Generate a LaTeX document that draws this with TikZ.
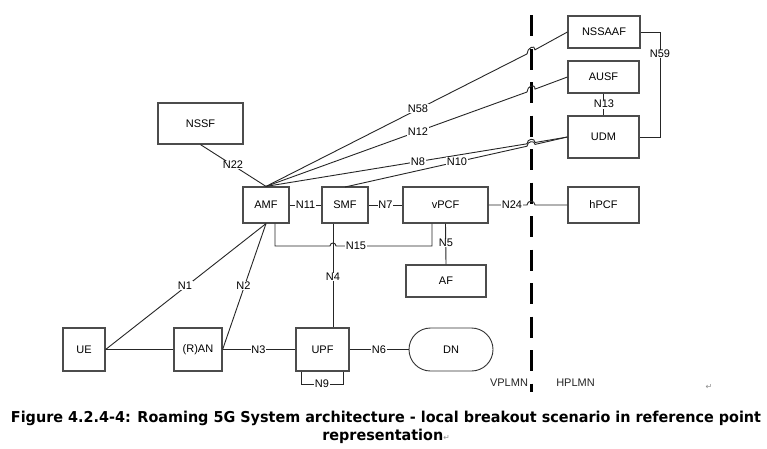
\documentclass[tikz,border=0pt]{standalone}
\usepackage{fontspec}
\setmainfont{Liberation Sans}
\newfontfamily\symfont{DejaVu Sans}
\newfontfamily\capfont{DejaVu Sans}
\begin{document}
\begin{tikzpicture}[x=1pt,y=-1pt,
  box/.style={draw=black!70,line width=1.2pt,fill=white,inner sep=0pt,font=\fontsize{11}{13}\selectfont},
  conn/.style={draw=black!85,line width=0.9pt},
  lbl/.style={fill=white,inner sep=0.6pt,font=\fontsize{11}{13}\selectfont},
  plmn/.style={font=\fontsize{11}{13}\selectfont,text=black!85},
  parmark/.style={font=\symfont\fontsize{8}{9}\selectfont,text=black!45}]
\useasboundingbox (0,0) rectangle (767,448);
\fill[white] (0,0) rectangle (767,448);

% boundary
\draw[line width=3pt,dash pattern=on 21pt off 12.5pt] (531,15) -- (531,392);

% nodes
\node[box,minimum width=72pt,minimum height=32pt] (NSSAAF) at (604,32) {NSSAAF};
\node[box,minimum width=71pt,minimum height=32pt] (AUSF) at (603.5,77) {AUSF};
\node[box,minimum width=71pt,minimum height=42pt] (UDM) at (603.5,137) {UDM};
\node[box,minimum width=85pt,minimum height=41pt] (NSSF) at (200.5,123.5) {NSSF};
\node[box,minimum width=46pt,minimum height=36pt] (AMF) at (266,205) {AMF};
\node[box,minimum width=46pt,minimum height=36pt] (SMF) at (345,205) {SMF};
\node[box,minimum width=85pt,minimum height=36pt] (vPCF) at (445.5,205) {vPCF};
\node[box,minimum width=71pt,minimum height=36pt] (hPCF) at (603.5,205) {hPCF};
\node[box,minimum width=80pt,minimum height=32pt] (AF) at (446,281) {AF};
\node[box,minimum width=42pt,minimum height=43pt] (UE) at (84,349.5) {UE};
\node[box,minimum width=48pt,minimum height=43pt] (RAN) at (198,349.5) {(R)AN};
\node[box,minimum width=53pt,minimum height=43pt] (UPF) at (322.5,349.5) {UPF};
\node[box,draw=black!80,line width=0.9pt,minimum width=84pt,minimum height=43pt,rounded corners=21.5pt] (DN) at (451,349.5) {DN};

% helper coordinates
\coordinate (h58a) at (527,53.9);  \coordinate (h58b) at (535,49.8);
\coordinate (h12a) at (527,92.0);  \coordinate (h12b) at (535,89.1);
\coordinate (h8a)  at (527,143.8); \coordinate (h8b)  at (535,142.5);
\coordinate (h10a) at (527,146.2); \coordinate (h10b) at (535,144.4);
\coordinate (h24a) at (527,205);   \coordinate (h24b) at (535,205);
\coordinate (n59c) at (660,0);
\coordinate (n4x) at (333,0);
\coordinate (n15l) at (275,246);
\coordinate (n15r) at (432,246);
\coordinate (n9l) at (301,384);
\coordinate (n9r) at (343,384);
\coordinate (n10s) at (345,187);

% connectors across the boundary
\draw[conn] (AMF.north) -- (h58a) .. controls (527,48) and (535,44) .. (h58b) -- (NSSAAF.west);
\draw[conn] (AMF.north) -- (h12a) .. controls (527,86) and (535,83) .. (h12b) -- (AUSF.west);
\draw[conn] (AMF.north) -- (h8a) .. controls (527,138.5) and (535,137.5) .. (h8b) -- (UDM.west);
\draw[conn] (n10s) -- (h10a) .. controls (527,141) and (535,140) .. (h10b) -- (UDM.west);
\draw[conn] (vPCF.east) -- (h24a) .. controls (527,200) and (535,200) .. (h24b) -- (hPCF.west);

\node[lbl] at (418,108.5) {N58};
\node[lbl] at (418,131.5) {N12};
\node[lbl] at (418,161.5) {N8};
\node[lbl] at (457,161.5) {N10};
\node[lbl] at (512,205) {N24};

% home side
\draw[conn] (NSSAAF.east) -- (NSSAAF.east -| n59c) -- (UDM.east -| n59c) -- (UDM.east);
\node[lbl] at (660,54) {N59};
\draw[conn] (AUSF.south) -- (UDM.north);
\node[lbl] at (604,104) {N13};

% visited side
\draw[conn] (NSSF.south) -- (AMF.north);
\node[lbl] at (233,165) {N22};
\draw[conn] (AMF.east) -- (SMF.west);
\node[lbl] at (305.5,205) {N11};
\draw[conn] (SMF.east) -- (vPCF.west);
\node[lbl] at (385.5,205) {N7};
\draw[conn] (vPCF.south) -- (AF.north);
\node[lbl] at (446,243) {N5};
\draw[conn] (SMF.south -| n4x) -- (UPF.north -| n4x);
\node[lbl] at (333,277) {N4};
\draw[conn] (AMF.south -| n15l) -- (n15l) -- (330,246) .. controls (330,242) and (336,242) .. (336,246) -- (n15r) -- (vPCF.south -| n15r);
\node[lbl] at (356,246) {N15};

\draw[conn] (UE.east) -- (AMF.south);
\node[lbl] at (185,285.5) {N1};
\draw[conn] (RAN.east) -- (AMF.south);
\node[lbl] at (243.5,285.5) {N2};
\draw[conn] (UE.east) -- (RAN.west);
\draw[conn] (RAN.east) -- (UPF.west);
\node[lbl] at (258.5,349.5) {N3};
\draw[conn] (UPF.east) -- (DN.west);
\node[lbl] at (379,349.5) {N6};
\draw[conn] (UPF.south -| n9l) -- (n9l) -- (n9r) -- (UPF.south -| n9r);
\node[lbl] at (322,384) {N9};

\node[plmn] (VP) at (509,383) {VPLMN};
\node[plmn] (HP) at (575.5,383) {HPLMN};
\node[parmark] (m1) at (709,387) {↵};

% caption
\node[anchor=base,inner sep=0pt] (cap) at (386,422) {\resizebox{750pt}{\height}{\capfont\bfseries\fontsize{15}{18.7}\selectfont
  \begin{tabular}[t]{@{}c@{}}Figure 4.2.4-4: Roaming 5G System architecture - local breakout scenario in reference point\\
  representation{\symfont\mdseries\fontsize{8}{9}\selectfont\textcolor{black!45}{↵}}\end{tabular}}};
\end{tikzpicture}
\end{document}
